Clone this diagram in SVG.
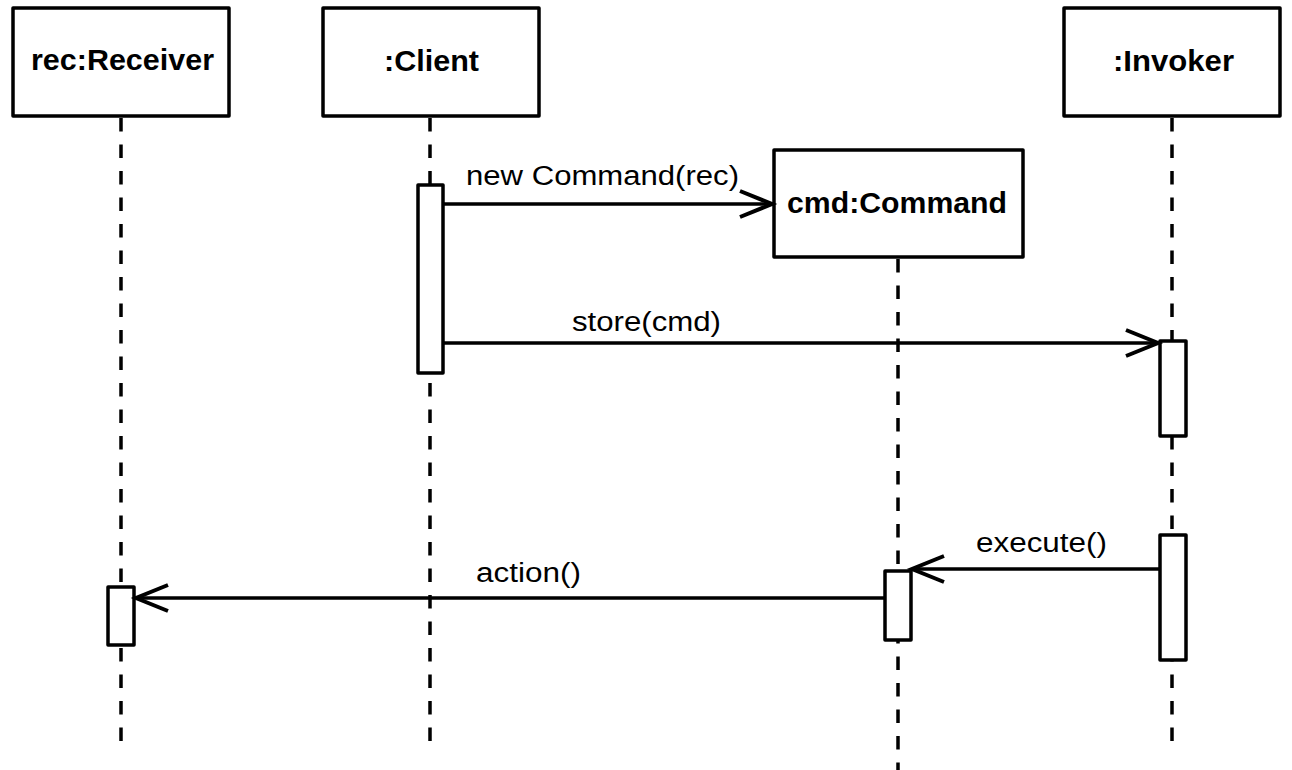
<svg xmlns="http://www.w3.org/2000/svg" width="1292" height="770" viewBox="0 0 1292 770">
  <style>
    .box { fill: #fff; stroke: #000; stroke-width: 3.5; stroke-linejoin: round; }
    .act { fill: #fff; stroke: #000; stroke-width: 3.5; stroke-linejoin: round; }
    .life { stroke: #000; stroke-width: 3.5; stroke-dasharray: 13.5 13; fill: none; }
    .msg { stroke: #000; stroke-width: 3.5; fill: none; marker-end: url(#open); }
    .title { font-family: "Liberation Sans", Arial, Helvetica, sans-serif; font-weight: bold; font-size: 29px; fill: #000; }
    .label { font-family: "Liberation Sans", Arial, Helvetica, sans-serif; font-size: 27px; fill: #000; }
  </style>
  <defs>
    <marker id="open" markerUnits="userSpaceOnUse" viewBox="-40 -20 44 40" refX="0" refY="0" markerWidth="44" markerHeight="40" orient="auto" overflow="visible">
      <path d="M-32,-13 L0,0 L-32,13" fill="none" stroke="#000" stroke-width="4" stroke-linejoin="miter"/>
    </marker>
  </defs>
  <rect width="1292" height="770" fill="#fff"/>

  <g id="lifelines">
    <line class="life" x1="121" y1="118" x2="121" y2="750"/>
    <line class="life" x1="430" y1="118" x2="430" y2="746"/>
    <line class="life" x1="898" y1="259" x2="898" y2="770"/>
    <line class="life" x1="1172" y1="118" x2="1172" y2="750"/>
  </g>

  <g id="receiver">
    <rect class="box" x="13" y="8" width="216" height="108"/>
    <text class="title" x="31" y="70" textLength="183" lengthAdjust="spacingAndGlyphs">rec:Receiver</text>
    <rect class="act" x="108" y="587" width="26" height="58"/>
  </g>

  <g id="client">
    <rect class="box" x="323" y="8" width="216" height="108"/>
    <text class="title" x="384" y="71" textLength="95" lengthAdjust="spacingAndGlyphs">:Client</text>
    <rect class="act" x="418" y="185" width="25" height="188"/>
  </g>

  <g id="command">
    <rect class="box" x="774" y="150" width="249" height="107"/>
    <text class="title" x="787" y="213" textLength="220" lengthAdjust="spacingAndGlyphs">cmd:Command</text>
    <rect class="act" x="885" y="571" width="26" height="69"/>
  </g>

  <g id="invoker">
    <rect class="box" x="1064" y="8" width="216" height="108"/>
    <text class="title" x="1113" y="71" textLength="121" lengthAdjust="spacingAndGlyphs">:Invoker</text>
    <rect class="act" x="1160" y="341" width="26" height="95"/>
    <rect class="act" x="1160" y="535" width="26" height="125"/>
  </g>

  <g id="connectors">
    <line class="msg" x1="443" y1="204" x2="772" y2="204"/>
    <text class="label" x="466" y="185" textLength="273" lengthAdjust="spacingAndGlyphs">new Command(rec)</text>

    <line class="msg" x1="443" y1="343" x2="1158" y2="343"/>
    <text class="label" x="572" y="331" textLength="149" lengthAdjust="spacingAndGlyphs">store(cmd)</text>

    <line class="msg" x1="1160" y1="569" x2="912" y2="569"/>
    <text class="label" x="976" y="552" textLength="131" lengthAdjust="spacingAndGlyphs">execute()</text>

    <line class="msg" x1="885" y1="598" x2="136" y2="598"/>
    <text class="label" x="476" y="582" textLength="105" lengthAdjust="spacingAndGlyphs">action()</text>
  </g>
</svg>
